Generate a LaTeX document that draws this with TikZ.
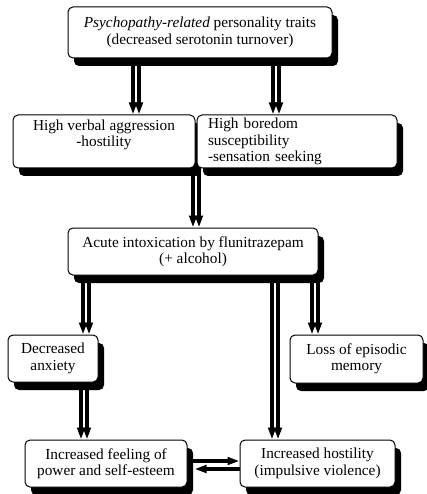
\documentclass[tikz,border=0pt]{standalone}
\usepackage{fontspec}
\setmainfont{Liberation Serif}
\usetikzlibrary{arrows.meta,shadows}
\begin{document}
\begin{tikzpicture}[x=1pt,y=-1pt,
  box/.style={draw, line width=1pt, rounded corners=5pt, fill=white, align=center,
    inner sep=2pt, font=\fontsize{15.3}{16.5}\selectfont,
    drop shadow={shadow xshift=6pt, shadow yshift=-8pt, fill=black, opacity=1}},
  arr/.style={line width=3.4pt, -{Triangle[length=12pt,width=7.5pt]}}]
\useasboundingbox (0,0) rectangle (426,494);

\node[box, minimum width=264pt, minimum height=51pt] (top) at (200,32.5)
  {{\itshape Psychopathy-related} personality traits\\(decreased serotonin turnover)};
\node[box, minimum width=182pt, minimum height=53pt] (hva) at (104,141.5)
  {High verbal aggression\\-hostility\\\mbox{}};
\node[box, minimum width=200pt, minimum height=53pt, text width=178pt, align=left] (hbs) at (297,141.5)
  {High boredom\\susceptibility\\-sensation seeking};
\node[box, minimum width=250pt, minimum height=47pt] (acute) at (193,251.5)
  {Acute intoxication by flunitrazepam\\(+ alcohol)};
\node[box, minimum width=90pt, minimum height=47pt] (dec) at (53,358.5)
  {Decreased\\anxiety};
\node[box, minimum width=133pt, minimum height=48pt] (loss) at (356.5,359)
  {Loss of episodic\\memory};
\node[box, minimum width=162pt, minimum height=47pt] (incf) at (106,463.5)
  {Increased feeling of\\power and self-esteem};
\node[box, minimum width=155pt, minimum height=47pt] (inch) at (317.5,463.5)
  {Increased hostility\\(impulsive violence)};

\draw[arr] (133,0 |- top.south) -- (133,0 |- hva.north);
\draw[arr] (139,0 |- top.south) -- (139,0 |- hva.north);
\draw[arr] (273,0 |- top.south) -- (273,0 |- hbs.north);
\draw[arr] (279,0 |- top.south) -- (279,0 |- hbs.north);
\draw[arr] (193,0 |- hva.south) -- (193,0 |- acute.north);
\draw[arr] (199,0 |- hbs.south) -- (199,0 |- acute.north);
\draw[arr] (83,0 |- acute.south) -- (83,0 |- dec.north);
\draw[arr] (89,0 |- acute.south) -- (89,0 |- dec.north);
\draw[arr] (272,0 |- acute.south) -- (272,0 |- inch.north);
\draw[arr] (278,0 |- acute.south) -- (278,0 |- inch.north);
\draw[arr] (312,0 |- acute.south) -- (312,0 |- loss.north);
\draw[arr] (318,0 |- acute.south) -- (318,0 |- loss.north);
\draw[arr] (81,0 |- dec.south) -- (81,0 |- incf.north);
\draw[arr] (87,0 |- dec.south) -- (87,0 |- incf.north);
\draw[arr] (incf.east |- 0,461) -- (inch.west |- 0,461);
\draw[arr, shorten >=7pt] (inch.west |- 0,469) -- (incf.east |- 0,469);
\end{tikzpicture}
\end{document}
